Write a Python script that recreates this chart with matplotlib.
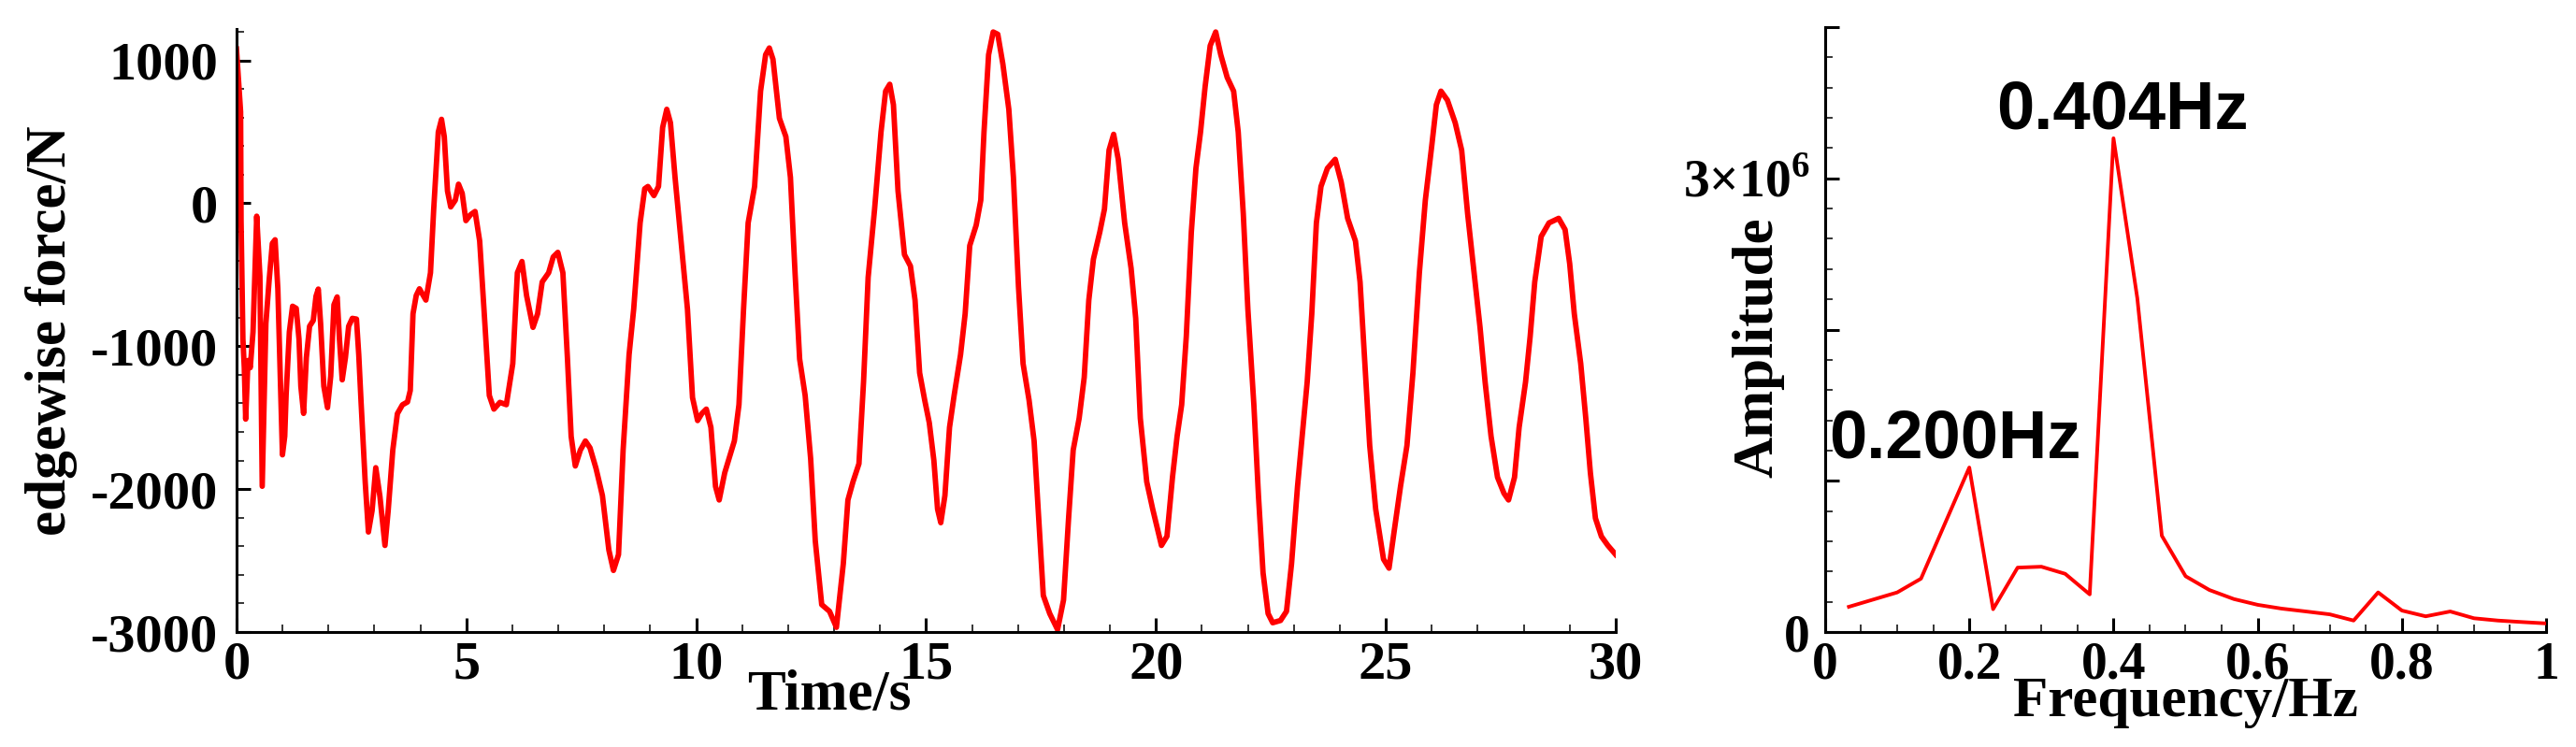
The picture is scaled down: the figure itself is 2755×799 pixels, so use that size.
import matplotlib.pyplot as plt
from matplotlib.ticker import MultipleLocator, FixedLocator, FixedFormatter

plt.rcParams['font.family'] = ['Liberation Serif', 'DejaVu Serif']
plt.rcParams['font.weight'] = 'bold'
plt.rcParams['axes.labelweight'] = 'bold'
plt.rcParams['axes.unicode_minus'] = False
plt.rcParams['mathtext.fontset'] = 'custom'
plt.rcParams['mathtext.rm'] = 'Liberation Serif:bold'
plt.rcParams['mathtext.bf'] = 'Liberation Serif:bold'

# time history of edgewise force
time = [0.00, 0.09, 0.10, 0.14, 0.17, 0.20, 0.25, 0.30, 0.36, 0.44, 0.51, 0.56, 0.64, 0.71, 0.78, 0.84,
        0.90, 0.95, 1.00, 1.05, 1.08, 1.15, 1.22, 1.30, 1.36, 1.40, 1.46, 1.52, 1.59, 1.67, 1.73, 1.78,
        1.83, 1.90, 1.98, 2.05, 2.12, 2.19, 2.24, 2.30, 2.37, 2.44, 2.52, 2.61, 2.66, 2.71, 2.80, 2.87,
        2.95, 3.03, 3.12, 3.23, 3.30, 3.40, 3.50, 3.61, 3.72, 3.78, 3.84, 3.91, 3.98, 4.12, 4.22, 4.29,
        4.39, 4.46, 4.52, 4.59, 4.66, 4.76, 4.83, 4.91, 4.99, 5.09, 5.19, 5.29, 5.39, 5.50, 5.60, 5.73,
        5.87, 6.01, 6.11, 6.21, 6.31, 6.45, 6.55, 6.65, 6.79, 6.89, 6.99, 7.10, 7.20, 7.28, 7.37, 7.48,
        7.59, 7.69, 7.82, 7.96, 8.10, 8.20, 8.31, 8.41, 8.54, 8.64, 8.78, 8.88, 8.95, 9.08, 9.18, 9.27,
        9.36, 9.44, 9.54, 9.68, 9.81, 9.92, 10.03, 10.12, 10.22, 10.32, 10.42, 10.50, 10.62, 10.83, 10.93,
        11.03, 11.13, 11.27, 11.40, 11.51, 11.59, 11.67, 11.81, 11.95, 12.05, 12.15, 12.25, 12.37, 12.49,
        12.59, 12.73, 12.90, 13.05, 13.20, 13.30, 13.41, 13.54, 13.64, 13.74, 13.88, 14.02, 14.12, 14.21,
        14.29, 14.39, 14.53, 14.66, 14.76, 14.86, 14.97, 15.07, 15.17, 15.25, 15.32, 15.41, 15.51, 15.61,
        15.75, 15.85, 15.95, 16.09, 16.19, 16.26, 16.36, 16.46, 16.56, 16.67, 16.80, 16.90, 17.01, 17.11,
        17.24, 17.35, 17.45, 17.55, 17.69, 17.86, 17.99, 18.10, 18.20, 18.33, 18.44, 18.54, 18.64, 18.78,
        18.88, 18.98, 19.08, 19.18, 19.32, 19.46, 19.56, 19.66, 19.80, 19.93, 20.12, 20.24, 20.36, 20.46,
        20.56, 20.66, 20.77, 20.87, 20.97, 21.07, 21.18, 21.30, 21.41, 21.55, 21.69, 21.79, 21.90, 22.00,
        22.13, 22.23, 22.33, 22.44, 22.54, 22.71, 22.84, 22.95, 23.08, 23.18, 23.29, 23.39, 23.49, 23.59,
        23.73, 23.90, 24.03, 24.17, 24.34, 24.44, 24.54, 24.65, 24.78, 24.95, 25.07, 25.18, 25.32, 25.46,
        25.59, 25.73, 25.86, 26.00, 26.10, 26.20, 26.34, 26.51, 26.65, 26.78, 26.92, 27.05, 27.16, 27.29,
        27.43, 27.57, 27.67, 27.80, 27.90, 28.04, 28.14, 28.24, 28.38, 28.55, 28.76, 28.90, 29.00, 29.10,
        29.24, 29.35, 29.45, 29.56, 29.69, 29.83, 30.00]
force = [1080, 640, -120, -950, -1150, -1510, -1100, -1150, -900, -90, -510, -1980, -840, -540, -280, -255,
         -600, -1170, -1760, -1630, -1340, -900, -720, -735, -950, -1280, -1470, -1080, -860, -820, -650, -600,
         -840, -1280, -1430, -1210, -710, -655, -950, -1235, -1080, -860, -805, -810, -1060, -1390, -1950, -2300,
         -2150, -1850, -2050, -2394, -2150, -1727, -1472, -1410, -1390, -1310, -773, -645, -598, -677, -486, -41,
         499, 588, 467, 86, -25, 22, 134, 70, -121, -80, -57, -264, -773, -1345, -1440, -1393,
         -1409, -1122, -486, -407, -645, -868, -773, -550, -486, -375, -343, -486, -1090, -1631, -1838, -1727,
         -1663, -1711, -1854, -2045, -2426, -2569, -2458, -1727, -1059, -741, -137, 102, 118, 54, 118, 531,
         658, 563, 181, -296, -741, -1360, -1520, -1472, -1440, -1568, -1981, -2076, -1886, -1663, -1409,
         -741, -137, 118, 785, 1040, 1087, 1008, 595, 467, 181, -486, -1090, -1345, -1790,
         -2362, -2808, -2855, -2967, -2521, -2076, -1949, -1822, -1250, -518, -41, 499, 785, 833,
         690, 86, -359, -439, -677, -1186, -1377, -1536, -1800, -2140, -2235, -2045, -1568, -1345,
         -1059, -773, -296, -153, 22, 499, 1040, 1199, 1183, 976, 658, 181, -582, -1122,
         -1377, -1663, -2204, -2744, -2871, -2983, -2776, -2204, -1727, -1504, -1218, -677, -391, -200,
         -41, 372, 483, 308, -137, -455, -804, -1504, -1949, -2140, -2394, -2330, -1917, -1631,
         -1409, -932, -200, 245, 499, 817, 1103, 1199, 1040, 881, 785, 499, -73, -741,
         -1409, -2045, -2585, -2871, -2935, -2919, -2855, -2521, -1981, -1631, -1250, -773, -137, 118,
         245, 308, 149, -105, -264, -550, -1090, -1695, -2140, -2490, -2553, -2299, -1981, -1695,
         -1186, -486, 22, 404, 690, 785, 722, 563, 372, -73, -486, -868, -1250, -1631,
         -1917, -2029, -2076, -1917, -1568, -1250, -932, -550, -232, -137, -105, -184, -423, -773,
         -1122, -1504, -1886, -2204, -2331, -2394, -2458]

# amplitude spectrum
freq = [0.033, 0.100, 0.133, 0.200, 0.233, 0.267, 0.300, 0.333, 0.367, 0.400, 0.433, 0.467, 0.500, 0.533,
        0.567, 0.600, 0.633, 0.667, 0.700, 0.733, 0.767, 0.800, 0.833, 0.867, 0.900, 0.933, 0.967, 1.000]
amp = [0.167e6, 0.262e6, 0.353e6, 1.088e6, 0.151e6, 0.426e6, 0.432e6, 0.385e6, 0.249e6, 3.265e6, 2.208e6,
       0.637e6, 0.369e6, 0.278e6, 0.218e6, 0.180e6, 0.155e6, 0.136e6, 0.117e6, 0.076e6, 0.262e6, 0.142e6,
       0.104e6, 0.136e6, 0.091e6, 0.076e6, 0.066e6, 0.057e6]

peak_labels = ['0.200Hz', '0.404Hz']
peak_pos = [(0.006, 1.155e6), (0.238, 3.33e6)]

fig = plt.figure(figsize=(27.55, 7.99), dpi=100)
ax1 = fig.add_axes([0.0918, 0.1539, 0.5354, 0.8073])
ax2 = fig.add_axes([0.7085, 0.1539, 0.2799, 0.8098])

for ax in (ax1, ax2):
    ax.spines['top'].set_visible(False)
    ax.spines['right'].set_visible(False)
    ax.spines['left'].set_linewidth(2.2)
    ax.spines['bottom'].set_linewidth(2.2)
    ax.tick_params(which='major', direction='in', length=11, width=2.2)
    ax.tick_params(which='minor', direction='in', length=6, width=1.1)

# left: time history
ax1.plot(time, force, color='red', lw=4.2)
ax1.set_xlim(0, 30)
ax1.set_ylim(-3000, 1220)
ax1.xaxis.set_major_locator(MultipleLocator(5))
ax1.xaxis.set_minor_locator(MultipleLocator(1))
ax1.yaxis.set_major_locator(FixedLocator([-3000, -2000, -1000, 0, 1000]))
ax1.yaxis.set_minor_locator(MultipleLocator(200))
ax1.tick_params(axis='x', labelsize=42, pad=7)
ax1.tick_params(axis='y', labelsize=42, pad=14)
ax1.text(0.43, -0.129, 'Time/s', transform=ax1.transAxes, ha='center', va='baseline',
         fontsize=44, fontweight='bold')
ax1.set_ylabel('edgewise force/N', fontsize=44, fontweight='bold')
ax1.yaxis.set_label_coords(-0.115, 0.5)

# right: spectrum
ax2.plot(freq, amp, color='red', lw=2.8)
ax2.set_xlim(0, 1)
ax2.set_ylim(0, 4e6)
ax2.xaxis.set_major_locator(FixedLocator([0, 0.2, 0.4, 0.6, 0.8, 1.0]))
ax2.xaxis.set_major_formatter(FixedFormatter(['0', '0.2', '0.4', '0.6', '0.8', '1']))
ax2.xaxis.set_minor_locator(MultipleLocator(0.05))
ax2.yaxis.set_major_locator(FixedLocator([0, 1e6, 2e6, 3e6, 4e6]))
ax2.yaxis.set_major_formatter(FixedFormatter(['0', '', '', '3×10$^6$', '']))
ax2.yaxis.set_minor_locator(MultipleLocator(0.2e6))
ax2.tick_params(axis='x', labelsize=40, pad=7)
ax2.tick_params(axis='y', labelsize=40, pad=12)
ax2.text(0.5, -0.139, 'Frequency/Hz', transform=ax2.transAxes, ha='center', va='baseline',
         fontsize=44, fontweight='bold')
ax2.set_ylabel('Amplitude', fontsize=44, fontweight='bold')
ax2.yaxis.set_label_coords(-0.057, 0.471)

for lab, (px, py) in zip(peak_labels, peak_pos):
    ax2.text(px, py, lab, ha='left', va='baseline', fontsize=52, fontweight='bold',
             family=['Liberation Sans', 'DejaVu Sans'])

fig.savefig('out.png', dpi=100)
